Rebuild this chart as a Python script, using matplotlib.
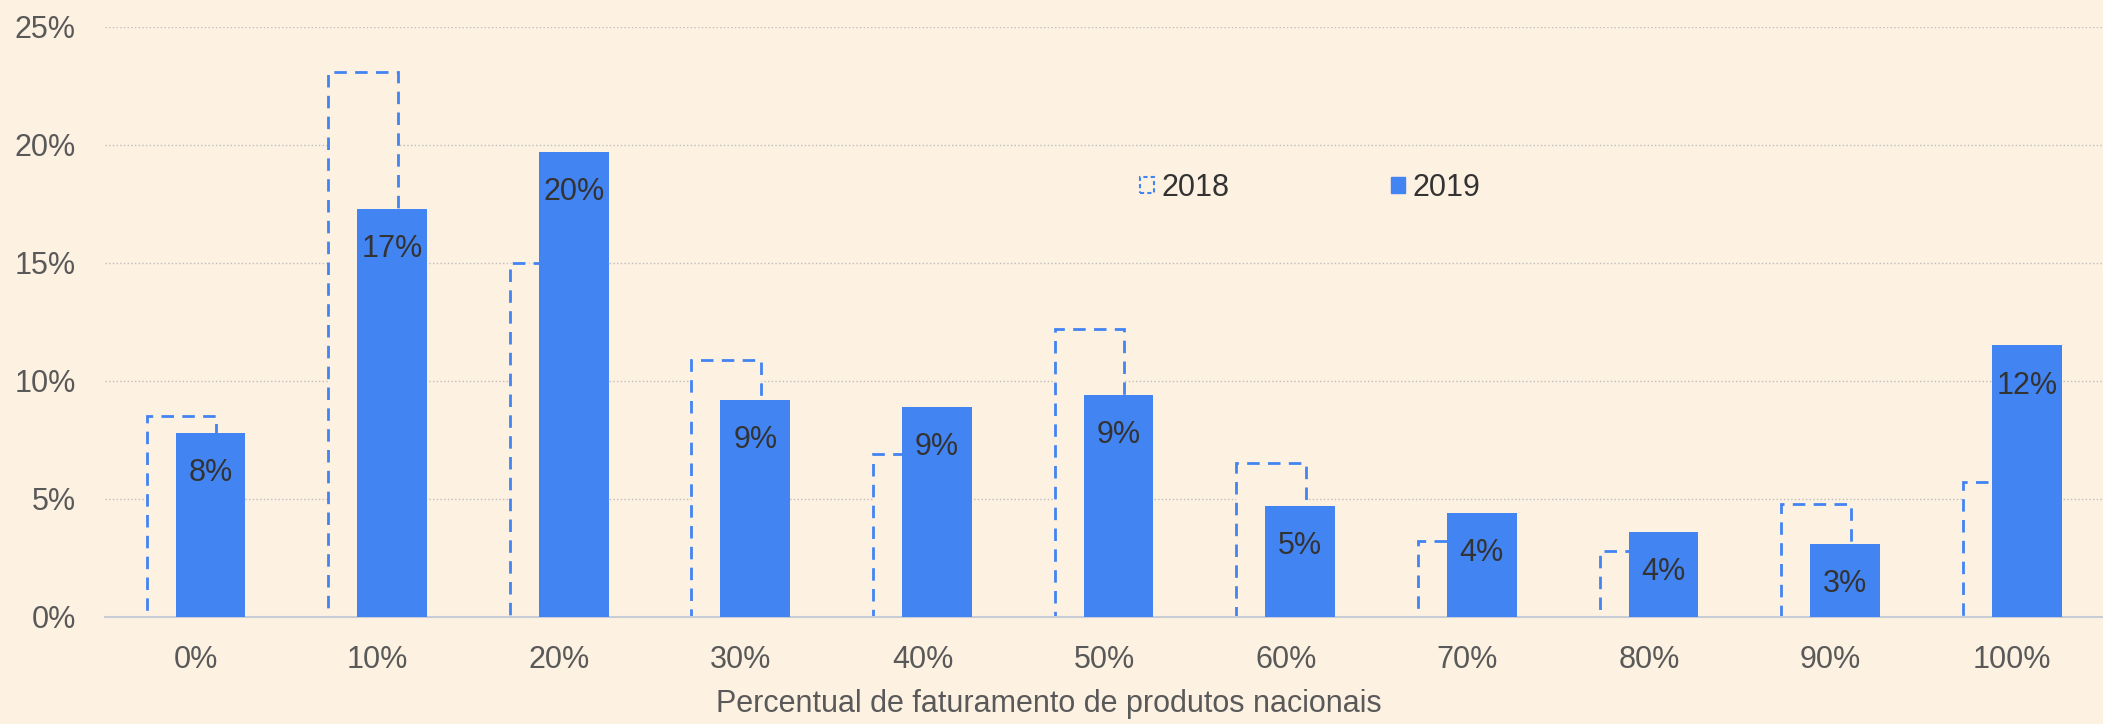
import numpy as np
import matplotlib.pyplot as plt
from matplotlib.patches import Patch

# --- Data ---
categories = ["0%", "10%", "20%", "30%", "40%", "50%", "60%", "70%", "80%", "90%", "100%"]
values_2018 = [8.5, 23.1, 15.0, 10.9, 6.9, 12.2, 6.5, 3.2, 2.8, 4.8, 5.7]
values_2019 = [7.8, 17.3, 19.7, 9.2, 8.9, 9.4, 4.7, 4.4, 3.6, 3.1, 11.5]
labels_2019 = ["8%", "17%", "20%", "9%", "9%", "9%", "5%", "4%", "4%", "3%", "12%"]
yticks = [0, 5, 10, 15, 20, 25]

# --- Style ---
BG = "#FDF1E2"
BLUE = "#4384F3"
TICK_GREY = "#595959"
LABEL_GREY = "#333333"
FS = 22

plt.rcParams["font.family"] = ["Liberation Sans", "DejaVu Sans"]

fig = plt.figure(figsize=(21.03, 7.24), dpi=100, facecolor=BG)
ax = fig.add_axes([0.05, 0.148, 0.95, 0.815])
ax.set_facecolor(BG)

x = np.arange(len(categories))
width = 0.384
offset = 0.08

# 2018: dashed outline, filled with background so gridlines are hidden
ax.bar(x - offset, values_2018, width, facecolor=BG, edgecolor=BLUE,
       linestyle=(0, (4.5, 3)), linewidth=2.0, zorder=2)
# 2019: solid bars
ax.bar(x + offset, values_2019, width, color=BLUE, zorder=3)

for xi, v, lab in zip(x, values_2019, labels_2019):
    ax.annotate(lab, (xi + offset, v), xytext=(0, -29), textcoords="offset points",
                ha="center", va="center", fontsize=FS, color=LABEL_GREY, zorder=4)

ax.set_xlim(-0.5, 10.5)
ax.set_ylim(0, 25)
ax.set_xticks(x)
ax.set_xticklabels(categories)
ax.set_yticks(yticks)
ax.set_yticklabels([f"{t}%" for t in yticks])
ax.tick_params(axis="both", length=0, labelsize=FS, labelcolor=TICK_GREY)
ax.tick_params(axis="x", pad=20)
ax.tick_params(axis="y", pad=21)

ax.yaxis.grid(True, linestyle=":", color="#BDBDBD", linewidth=1.0)
ax.set_axisbelow(True)
for s in ["top", "right", "left"]:
    ax.spines[s].set_visible(False)
ax.spines["bottom"].set_color("#C8CCD4")
ax.spines["bottom"].set_linewidth(1.5)
ax.spines["bottom"].set_zorder(2.5)

ax.set_xlabel("Percentual de faturamento de produtos nacionais", fontsize=FS,
              color=TICK_GREY, va="center")
ax.xaxis.set_label_coords(0.4725, -0.147)

handles = [Patch(facecolor=BG, edgecolor=BLUE, linestyle=(0, (2, 1.5)), linewidth=1.5, label="2018"),
           Patch(facecolor=BLUE, edgecolor=BLUE, label="2019")]
leg = ax.legend(handles=handles, loc="center left", bbox_to_anchor=(0.518, 0.727),
                ncol=2, frameon=False, fontsize=FS, handlelength=0.45, handleheight=0.45,
                handletextpad=0.25, columnspacing=5.3, borderpad=0, borderaxespad=0)
for t in leg.get_texts():
    t.set_color(LABEL_GREY)

plt.savefig("out.png", dpi=100, facecolor=BG)
